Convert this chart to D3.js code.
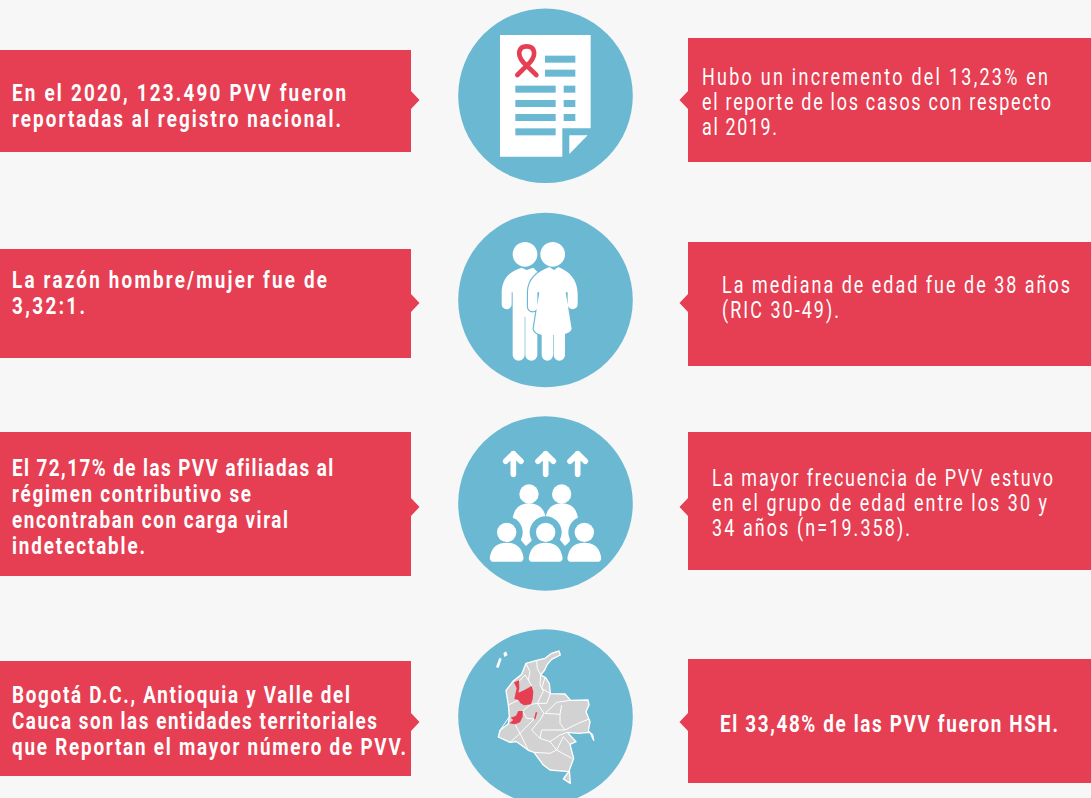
<!DOCTYPE html>
<html>
<head>
<meta charset="utf-8">
<script src="https://cdn.jsdelivr.net/npm/d3@7"></script>
<style>
  html, body { margin: 0; padding: 0; background: #f7f7f7; }
  svg { display: block; }
  text { font-family: "Roboto", sans-serif; fill: #fff; font-size: 23px; }
</style>
</head>
<body>
<div id="chart"></div>
<script>
const leftTexts = [
  ["En el 2020, 123.490 PVV fueron", "reportadas al registro nacional."],
  ["La razón hombre/mujer fue de", "3,32:1."],
  ["El 72,17% de las PVV afiliadas al", "régimen contributivo se", "encontraban con carga viral", "indetectable."],
  ["Bogotá D.C., Antioquia y Valle del", "Cauca son las entidades territoriales", "que Reportan el mayor número de PVV."]
];
const rightTexts = [
  ["Hubo un incremento del 13,23% en", "el reporte de los casos con respecto", "al 2019."],
  ["La mediana de edad fue de 38 años", "(RIC 30-49)."],
  ["La mayor frecuencia de PVV estuvo", "en el grupo de edad entre los 30 y", "34 años (n=19.358)."],
  ["El 33,48% de las PVV fueron HSH."]
];
const rightBold = [false, false, false, true];

const width = 1091, height = 798;
const red = "#e63e52", blue = "#6ab8d2", white = "#fff", grey = "#d2d2d2";

// layout
const leftBoxes = [[50, 152], [249, 358], [432, 576], [661, 776]];
const rightBoxes = [[38, 162], [242, 366], [432, 570], [659, 783]];
const tipY = [100, 303, 507, 722];
const circleY = [95.8, 300, 503.5, 716.5];
const leftBase = [101, 288, 476, 703];
const rightBase = [85, 293, 486, 732];
const rightX = [702, 722, 712, 720];
// where each line of text ends
const leftEnds = [[346, 341], [327, 85], [333, 251, 288, 145], [350, 377, 406]];
const rightEnds = [[1048, 1051, 777], [1070, 839], [1053, 1047, 910], [1058]];

const svg = d3.select("#chart").append("svg")
  .attr("width", width)
  .attr("height", height);

svg.append("rect").attr("width", width).attr("height", height).attr("fill", "#f7f7f7");

// boxes with the little arrow pointing to the circle
svg.append("g").selectAll("path")
  .data(leftBoxes)
  .join("path")
  .attr("fill", red)
  .attr("d", (d, i) => `M0,${d[0]}H411V${tipY[i] - 9}L419.5,${tipY[i]}L411,${tipY[i] + 9}V${d[1]}H0Z`);

svg.append("g").selectAll("path")
  .data(rightBoxes)
  .join("path")
  .attr("fill", red)
  .attr("d", (d, i) => `M1091,${d[0]}H688V${tipY[i] - 9}L679.5,${tipY[i]}L688,${tipY[i] + 9}V${d[1]}H1091Z`);

svg.append("g").selectAll("circle")
  .data(circleY)
  .join("circle")
  .attr("cx", 545.5)
  .attr("cy", (d) => d)
  .attr("r", 87.3)
  .attr("fill", blue);

// Textos: no condensed font is installed, so Roboto is squeezed and each line spaced to its end
function addLines(lines, ends, x, base, step, bold) {
  const sx = bold ? 0.82 : 0.78;
  lines.forEach((str, i) => {
    const t = svg.append("text")
      .attr("transform", `translate(${x},${base + i * step}) scale(${sx},1)`)
      .attr("font-weight", bold ? 700 : 400)
      .text(str);
    const natural = t.node().getComputedTextLength();
    t.attr("letter-spacing", ((ends[i] - x) / sx - natural) / (str.length - 1));
  });
}

leftTexts.forEach((lines, i) => addLines(lines, leftEnds[i], 12, leftBase[i], 26, true));
rightTexts.forEach((lines, i) => addLines(lines, rightEnds[i], rightX[i], rightBase[i], 25, rightBold[i]));

// icons are drawn in the coordinates of a 3x crop of the reference, so scale by 1/3
const icon = (x, y) => svg.append("g").attr("transform", `translate(${x},${y}) scale(${1 / 3})`);

// Documento
const doc = icon(440, 0);
doc.append("path").attr("fill", white).attr("d", "M180,105H452V385H367V470H180Z");
doc.append("path").attr("fill", white).attr("d", "M388,406H443L388,462Z");
const docBars = [[315, 167, 91], [315, 209, 91], [226, 257, 121], [371, 257, 35], [226, 300, 121], [371, 300, 35], [226, 342, 121], [371, 342, 35], [226, 385, 121]];
doc.selectAll("rect")
  .data(docBars)
  .join("rect")
  .attr("x", (d) => d[0])
  .attr("y", (d) => d[1])
  .attr("width", (d) => d[2])
  .attr("height", 21)
  .attr("fill", blue);
doc.append("path")
  .attr("fill", "none")
  .attr("stroke", red)
  .attr("stroke-width", 14)
  .attr("stroke-linecap", "round")
  .attr("d", "M232,225L270,187C290,165 285,139 260,139C235,139 230,165 250,187L289,225");

// Pareja
const couple = icon(440, 205);
couple.append("circle").attr("cx", 255).attr("cy", 148).attr("r", 37).attr("fill", white);
couple.append("path").attr("fill", white)
  .attr("d", "M245,188L260,195L280,188L292,200V450a18,17 0 0 1 -36,0V335H254V450a18,17 0 0 1 -36,0V262H215V298a15,15 0 0 1 -30,0V265C185,225 205,200 245,188Z");
couple.append("path").attr("fill", white).attr("stroke", blue).attr("stroke-width", 7)
  .style("paint-order", "stroke")
  .attr("d", "M328,186L342,195L355,186C390,200 412,225 413,265V298a15,15 0 0 1 -30,0V262H377L395,372Q392,382 375,387V450a17,17 0 0 1 -34,0V390H339V450a17,17 0 0 1 -34,0V390Q285,385 281,372L298,262H292V305a14,14 0 0 1 -28,0V260C265,225 290,200 328,186Z");
couple.append("circle").attr("cx", 338).attr("cy", 148).attr("r", 37).attr("fill", white);

// Grupo
const group = icon(440, 410);
group.selectAll("path.arrow")
  .data([220, 317, 413])
  .join("path")
  .attr("class", "arrow")
  .attr("fill", "none")
  .attr("stroke", white)
  .attr("stroke-width", 17)
  .attr("stroke-linecap", "round")
  .attr("stroke-linejoin", "round")
  .attr("d", (d) => `M${d},193V131M${d - 23},154L${d},131L${d + 23},154`);
group.append("path").attr("fill", white)
  .attr("d", "M218,325Q225,280 267,280Q310,280 318,325L272,395L258,408L244,392Z");
group.append("path").attr("fill", white)
  .attr("d", "M316,325Q323,280 365,280Q408,280 414,325L388,395L375,408L362,392Z");
group.selectAll("circle.top").data([267, 365]).join("circle").attr("class", "top")
  .attr("cx", (d) => d).attr("cy", 252).attr("r", 29).attr("fill", white);
const front = [200, 317, 433];
group.selectAll("circle.ring").data(front).join("circle").attr("class", "ring")
  .attr("cx", (d) => d).attr("cy", 367).attr("r", 48).attr("fill", blue);
group.selectAll("circle.head").data(front).join("circle").attr("class", "head")
  .attr("cx", (d) => d).attr("cy", 367).attr("r", 29).attr("fill", white);
group.selectAll("path.dome").data(front).join("path").attr("class", "dome")
  .attr("fill", white)
  .attr("d", (d) => `M${d - 44},455Q${d - 54},452 ${d - 49},435Q${d - 40},398 ${d},398Q${d + 40},398 ${d + 49},435Q${d + 54},452 ${d + 44},455Z`);

// Mapa
const map = icon(450, 625);
const line = d3.line().curve(d3.curveLinear);
const countryOutline = [[327, 78], [331, 90], [305, 103], [292, 118], [284, 135], [272, 150], [287, 158], [298, 176], [301, 206], [345, 207], [362, 226], [414, 225], [417, 240], [408, 260], [420, 290], [415, 318], [428, 330], [431, 346], [420, 322], [385, 325], [352, 322], [378, 350], [360, 358], [371, 400], [358, 436], [361, 475], [340, 462], [356, 440], [300, 435], [280, 420], [252, 382], [235, 376], [200, 350], [180, 352], [145, 336], [150, 316], [175, 296], [178, 275], [175, 240], [168, 196], [190, 168], [215, 148], [228, 115], [260, 106], [285, 100], [305, 85]];
const islandA = [[138, 127], [148, 98], [155, 102], [146, 128]];
const islandB = [[160, 85], [168, 79], [173, 90], [163, 96]];
const antioquia = [[192, 172], [207, 166], [208, 190], [205, 203], [222, 196], [245, 183], [250, 200], [248, 222], [243, 238], [222, 241], [212, 235], [205, 225], [193, 222], [196, 208], [200, 190]];
const valle = [[205, 258], [218, 258], [218, 275], [210, 292], [195, 298], [178, 295], [190, 285], [182, 278], [198, 272]];
const bogota = [[257, 262], [262, 262], [256, 283], [252, 282]];
const innerBorders = [
  [[228, 115], [240, 140], [235, 165], [245, 183]],
  [[260, 106], [262, 130], [272, 150], [270, 180], [280, 198], [262, 235], [243, 238]],
  [[285, 158], [275, 190], [301, 206]],
  [[208, 168], [225, 150], [235, 165]],
  [[301, 206], [290, 235], [262, 235], [282, 265], [270, 285], [245, 315]],
  [[362, 226], [320, 232], [285, 265], [330, 268], [335, 240]],
  [[330, 268], [330, 295], [345, 315], [385, 295], [417, 282]],
  [[345, 315], [275, 315], [270, 340], [300, 350], [330, 330], [352, 322]],
  [[245, 315], [270, 340]],
  [[218, 258], [243, 238]],
  [[218, 258], [230, 280], [252, 282], [210, 325], [180, 352]],
  [[195, 298], [210, 325], [235, 376]],
  [[252, 382], [300, 385], [320, 375], [365, 400]],
  [[300, 350], [320, 375], [340, 335], [360, 358]],
  [[175, 240], [205, 225]],
  [[178, 275], [150, 316]]
];
map.append("path").attr("d", line(countryOutline) + "Z")
  .attr("fill", grey).attr("stroke", white).attr("stroke-width", 4).attr("stroke-linejoin", "round");
[islandA, islandB].forEach((p) => {
  map.append("path").attr("d", line(p) + "Z").attr("fill", white);
});
map.selectAll("path.border").data(innerBorders).join("path").attr("class", "border")
  .attr("d", (d) => line(d)).attr("fill", "none").attr("stroke", white).attr("stroke-width", 3);
map.selectAll("path.hi").data([antioquia, valle, bogota]).join("path").attr("class", "hi")
  .attr("d", (d) => line(d) + "Z").attr("fill", red);
</script>
</body>
</html>
